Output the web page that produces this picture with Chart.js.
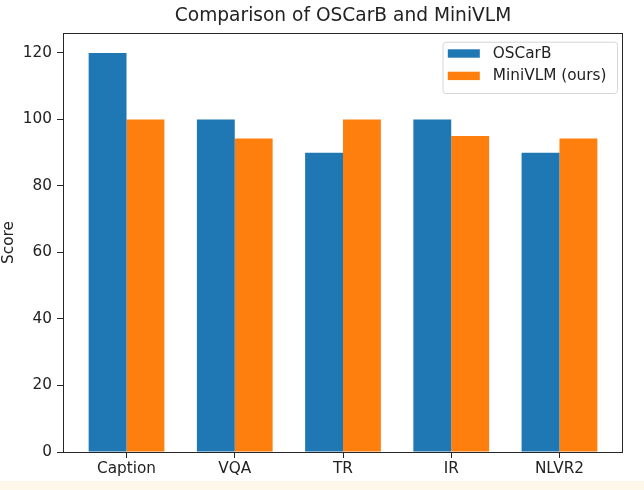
<!DOCTYPE html>
<html>
<head>
<meta charset="utf-8">
<script src="https://cdn.jsdelivr.net/npm/chart.js@4.4.0/dist/chart.umd.min.js"></script>
<style>
  html, body { margin: 0; padding: 0; }
  body { width: 644px; height: 490px; overflow: hidden;
         background: linear-gradient(to bottom, #ffffff 0px, #ffffff 481px, #fdf8ea 481px, #fdf8ea 490px); }
  #wrap { position: absolute; left: 0; top: 0; width: 644px; height: 490px; }
</style>
</head>
<body>
<div id="wrap"><canvas id="c" width="644" height="490"></canvas></div>
<script>
// ---- data ----
const categories = ["Caption", "VQA", "TR", "IR", "NLVR2"];
const oscarB = [120, 100, 90, 100, 90];
const miniVLM = [100, 94.3, 100, 95, 94.3];
const seriesNames = ["OSCarB", "MiniVLM (ours)"];
const yTicks = [0, 20, 40, 60, 80, 100, 120];
const chartTitle = "Comparison of OSCarB and MiniVLM";

const FONT = "'DejaVu Sans', sans-serif";
const TXT = "#222222";

const framePlugin = {
  id: 'frame',
  afterDatasetsDraw(chart) {
    const a = chart.chartArea, ctx = chart.ctx;
    ctx.save();
    ctx.strokeStyle = "#262626";
    ctx.lineWidth = 1;
    ctx.strokeRect(Math.round(a.left) + 0.5, Math.round(a.top) + 0.5,
                   Math.round(a.right - a.left) - 1, Math.round(a.bottom - a.top));
    ctx.restore();
  }
};

const titlePlugin = {
  id: 'mplTitle',
  afterDraw(chart) {
    const a = chart.chartArea, ctx = chart.ctx;
    ctx.save();
    ctx.font = "18.6px " + FONT;
    ctx.fillStyle = TXT;
    ctx.textAlign = "center";
    ctx.textBaseline = "alphabetic";
    ctx.fillText(chartTitle, (a.left + a.right) / 2, a.top - 12);
    ctx.restore();
  }
};

const legendPlugin = {
  id: 'mplLegend',
  afterDraw(chart) {
    const a = chart.chartArea, ctx = chart.ctx;
    const right = a.right - 6, top = a.top + 8.7;
    const w = 174.5, h = 51.3;
    const left = right - w;
    ctx.save();
    ctx.beginPath();
    if (ctx.roundRect) ctx.roundRect(left + 0.5, top + 0.5, w, h, 3); else ctx.rect(left + 0.5, top + 0.5, w, h);
    ctx.fillStyle = "rgba(255,255,255,0.85)";
    ctx.fill();
    ctx.strokeStyle = "#d6d6d6";
    ctx.lineWidth = 1;
    ctx.stroke();
    ctx.font = "15.3px " + FONT;
    ctx.textBaseline = "middle";
    ctx.textAlign = "left";
    chart.data.datasets.forEach((ds, i) => {
      const py = top + 7.6 + i * 22.4;
      ctx.fillStyle = ds.backgroundColor;
      ctx.fillRect(left + 5.3, py, 32, 8.4);
      ctx.fillStyle = TXT;
      ctx.fillText(ds.label, left + 50.3, py + 4.6);
    });
    ctx.restore();
  }
};

new Chart(document.getElementById('c'), {
  type: 'bar',
  data: {
    datasets: [
      { label: seriesNames[0], data: oscarB.map((v, i) => ({ x: i, y: v })),
        backgroundColor: "#1f77b4", borderWidth: 0 },
      { label: seriesNames[1], data: miniVLM.map((v, i) => ({ x: i, y: v })),
        backgroundColor: "#ff7f0e", borderWidth: 0 }
    ]
  },
  options: {
    responsive: false,
    animation: false,
    devicePixelRatio: 1,
    layout: { padding: { left: 0, right: 21, top: 33, bottom: 0 } },
    datasets: { bar: { categoryPercentage: 0.7, barPercentage: 1.0 } },
    plugins: {
      legend: { display: false },
      tooltip: { enabled: false },
      title: { display: false }
    },
    scales: {
      x: {
        type: 'linear',
        min: -0.587, max: 4.587,
        offset: false,
        grid: { display: true, drawOnChartArea: false, drawTicks: true, tickLength: 6,
                color: "#262626", offset: false },
        border: { display: false },
        afterBuildTicks(scale) { scale.ticks = categories.map((c, i) => ({ value: i })); },
        ticks: {
          autoSkip: false, maxRotation: 0, minRotation: 0, padding: 2,
          color: TXT, font: { family: FONT, size: 15.3 },
          callback: (v) => categories[Math.round(v)]
        },
        afterFit(scale) { scale.height = 38; }
      },
      y: {
        min: 0, max: 126,
        grid: { display: true, drawOnChartArea: false, drawTicks: true, tickLength: 6, color: "#262626" },
        border: { display: false },
        afterBuildTicks(scale) { scale.ticks = yTicks.map(v => ({ value: v })); },
        ticks: { color: TXT, font: { family: FONT, size: 15.3 }, padding: 5 },
        title: { display: true, text: "Score", color: TXT,
                 font: { family: FONT, size: 15.3 }, padding: { top: 0, bottom: 0 } },
        afterFit(scale) { scale.width = 63; }
      }
    }
  },
  plugins: [framePlugin, titlePlugin, legendPlugin]
});
</script>
</body>
</html>
